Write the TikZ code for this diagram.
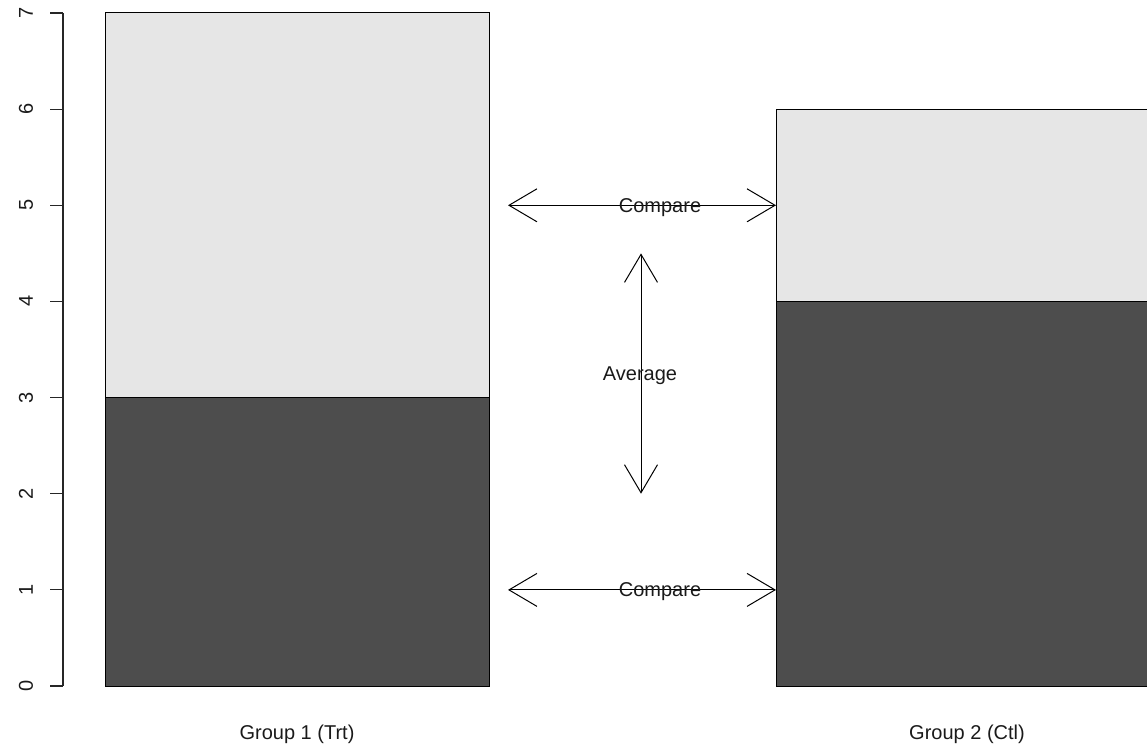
\documentclass[tikz,border=0pt]{standalone}
\usepackage{fontspec}
\setmainfont{Liberation Sans}
\usetikzlibrary{arrows.meta}
\definecolor{barlight}{HTML}{E6E6E6}
\definecolor{bardark}{HTML}{4D4D4D}
\definecolor{inktext}{HTML}{1A1A1A}
\begin{document}
\begin{tikzpicture}[x=1pt,y=-1pt,
  lbl/.style={font=\fontsize{20}{22}\selectfont, text=inktext, inner sep=0pt},
  ticklbl/.style={lbl, rotate=90},
  segment/.style={draw=black, line width=1pt},
  axisline/.style={draw=black!85, line width=1.1pt},
  dbl/.style={draw=black, line width=1pt,
    {Straight Barb[length=28pt,width=33pt,line width=1pt]}-{Straight Barb[length=28pt,width=33pt,line width=1pt]}}
]
\useasboundingbox (0,0) rectangle (1147,749);
\clip (0,0) rectangle (1147,749);

% value v maps to y = 686 - 96.14 v
% y axis with ticks 0..7
\draw[axisline] (63,686) -- (63,13);
\foreach \v in {0,...,7}{
  \pgfmathsetmacro{\yy}{686-96.143*\v}
  \draw[axisline] (50,\yy) -- (63,\yy);
  \node[ticklbl] (t\v) at (26,\yy) {\v};
}

% Group 1 (Trt): stacked bar 0-3 dark, 3-7 light
\fill[bardark] (105,686) rectangle (489,397.6);
\fill[barlight] (105,397.6) rectangle (489,13);
\draw[segment] (105,397.6) -- (489,397.6);
\draw[segment] (105,686) rectangle (489,13);

% Group 2 (Ctl): stacked bar 0-4 dark, 4-6 light
\fill[bardark] (776,686) rectangle (1160,301.4);
\fill[barlight] (776,301.4) rectangle (1160,109.1);
\draw[segment] (776,301.4) -- (1160,301.4);
\draw[segment] (776,686) rectangle (1160,109.1);

% arrow end points
\coordinate (cmpTopL) at (508,205.3);
\coordinate (cmpTopR) at (776,205.3);
\coordinate (cmpBotL) at (508,589.9);
\coordinate (cmpBotR) at (776,589.9);
\coordinate (avgTop) at (641,253.4);
\coordinate (avgBot) at (641,493.7);

\draw[dbl] (cmpTopL) -- (cmpTopR);
\draw[dbl] (cmpBotL) -- (cmpBotR);
\draw[dbl] (avgTop) -- (avgBot);

\node[lbl] (cmpTop) at (660,207.5) {Compare};
\node[lbl] (cmpBot) at (660,592) {Compare};
\node[lbl] (avg) at (640,376) {Average};

% group labels
\node[lbl] (g1) at (297,734) {Group 1 (Trt)};
\node[lbl] (g2) at (967,734) {Group 2 (Ctl)};
\end{tikzpicture}
\end{document}
